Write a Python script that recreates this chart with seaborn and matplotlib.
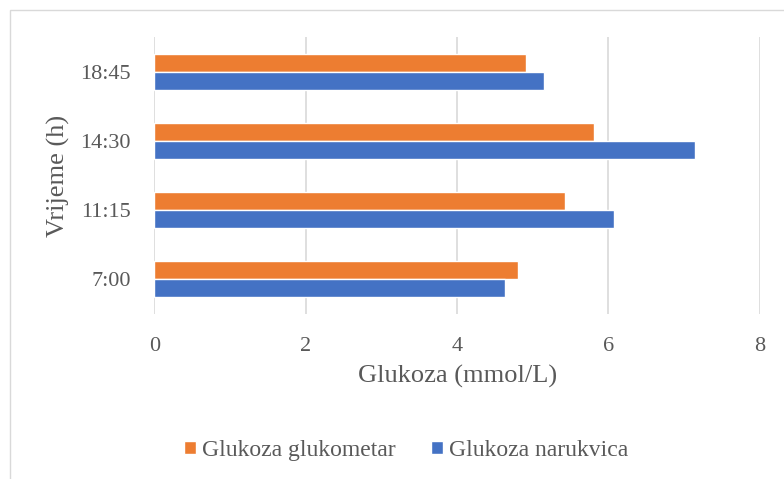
import pandas as pd
import seaborn as sns
import matplotlib.pyplot as plt
from matplotlib.patches import Rectangle

# ---------------- Data ----------------
times = ["7:00", "11:15", "14:30", "18:45"]
glukometar = [4.81, 5.42, 5.81, 4.91]
narukvica = [4.64, 6.08, 7.15, 5.15]
series_names = ["Glukoza glukometar", "Glukoza narukvica"]
colors = ["#ED7D31", "#4472C4"]

df = pd.DataFrame({
    "Vrijeme": times * 2,
    "Glukoza": glukometar + narukvica,
    "Serija": [series_names[0]] * len(times) + [series_names[1]] * len(times),
})

# ---------------- Plot ----------------
sns.set_style("white")
plt.rcParams["font.family"] = ["Liberation Serif", "DejaVu Serif"]
text_col = "#595959"

fig = plt.figure(figsize=(7.84, 4.79), dpi=100)
ax = fig.add_axes([0.197, 0.345, 0.772, 0.577])

sns.barplot(
    data=df, x="Glukoza", y="Vrijeme", hue="Serija",
    order=times[::-1], hue_order=series_names, palette=colors,
    orient="h", width=0.52, saturation=1, ax=ax,
)

ax.set_xlim(0, 8)
ax.set_xticks([0, 2, 4, 6, 8])
ax.xaxis.grid(True, color="#D9D9D9", linewidth=1.2)
ax.set_axisbelow(True)
for s in ax.spines.values():
    s.set_visible(False)
ax.tick_params(axis="both", length=0, labelsize=16, colors=text_col)
ax.tick_params(axis="y", pad=17)
ax.tick_params(axis="x", pad=17)
ax.set_xlabel("Glukoza (mmol/L)", fontsize=19, color=text_col, labelpad=6)
ax.set_ylabel("Vrijeme (h)", fontsize=19, color=text_col, labelpad=7)

ax.legend(
    loc="center", bbox_to_anchor=(0.518, 0.06), bbox_transform=fig.transFigure,
    ncol=2, frameon=False, fontsize=17, handlelength=0.5, handleheight=0.5,
    handletextpad=0.25, columnspacing=1.5, labelcolor=text_col,
)

# chart border
fig.patches.append(Rectangle((10 / 784, -0.01), 1.0, 0.99, transform=fig.transFigure,
                             fill=False, edgecolor="#D9D9D9", linewidth=1))

fig.savefig("out.png", dpi=100)
